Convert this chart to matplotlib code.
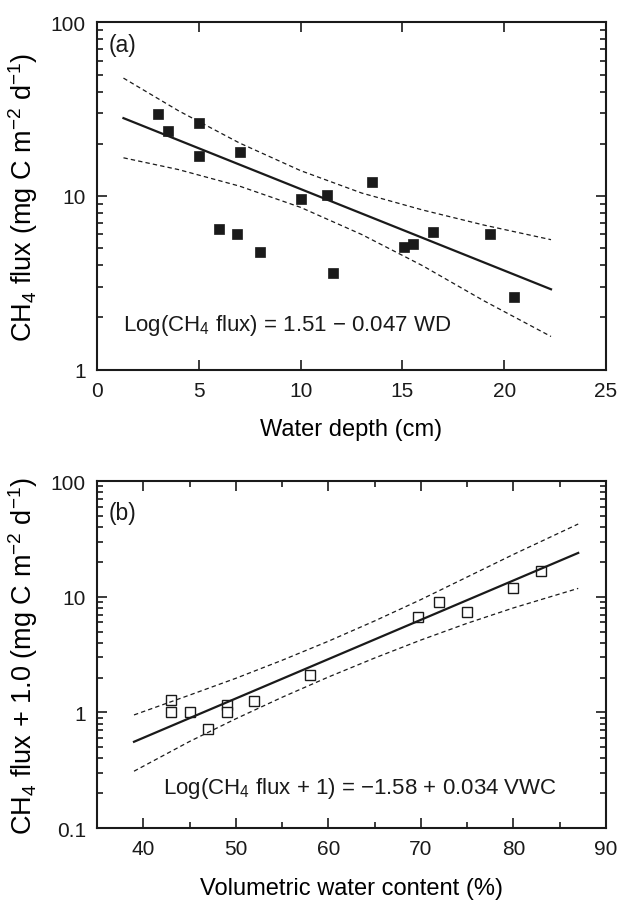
import numpy as np
import matplotlib
matplotlib.use('Agg')
import matplotlib.pyplot as plt
from matplotlib.ticker import FixedLocator, NullFormatter, LogLocator

plt.rcParams['font.family'] = ['Liberation Sans', 'DejaVu Sans']
plt.rcParams['mathtext.fontset'] = 'custom'
plt.rcParams['mathtext.rm'] = 'Liberation Sans'
plt.rcParams['mathtext.it'] = 'Liberation Sans:italic'
plt.rcParams['mathtext.default'] = 'regular'

# Panel (a): water depth vs CH4 flux
depth = [3.0, 3.5, 5.0, 5.0, 7.0, 6.0, 6.9, 8.0, 10.0, 11.3, 11.6, 13.5, 15.1, 15.5, 16.5, 19.3, 20.5]
flux = [29.8, 23.6, 26.4, 17.1, 18.0, 6.45, 6.0, 4.77, 9.6, 10.1, 3.6, 12.0, 5.05, 5.3, 6.2, 6.0, 2.63]

fit_a_x = [1.3, 22.3]
fit_a_y = [28.1, 2.90]
band_a_x = [1.3, 4, 7, 10, 13, 16, 19, 22.3]
band_a_hi = [47.8, 31.0, 20.2, 14.0, 10.4, 8.3, 6.8, 5.6]
band_a_lo = [16.6, 14.2, 11.4, 8.6, 6.0, 3.96, 2.49, 1.55]

# Panel (b): volumetric water content vs CH4 flux + 1
vwc = [43, 43, 45, 47, 49, 49, 52, 58, 69.7, 72, 75, 80, 83]
flux1 = [1.27, 1.01, 1.0, 0.72, 1.15, 1.0, 1.25, 2.12, 6.7, 9.0, 7.4, 11.8, 16.6]

fit_b_x = [39, 87]
fit_b_y = [0.557, 23.9]
band_b_x = [39, 45, 50, 55, 60, 65, 70, 75, 80, 87]
band_b_hi = [0.95, 1.41, 1.97, 2.82, 4.12, 6.17, 9.44, 14.8, 23.2, 42.5]
band_b_lo = [0.31, 0.56, 0.88, 1.35, 2.02, 2.95, 4.22, 5.89, 8.0, 11.8]

ink = '#1a1a1a'
fig = plt.figure(figsize=(6.21, 9.03), dpi=100)
ax1 = fig.add_axes([0.1562, 0.5897, 0.8196, 0.3843])
ax2 = fig.add_axes([0.1562, 0.0819, 0.8196, 0.3843])

dash = (0, (3.5, 2.5))

ax1.plot(depth, flux, 's', ms=7.7, color=ink, mec=ink, mew=0.5)
ax1.plot(fit_a_x, fit_a_y, '-', color=ink, lw=1.6)
ax1.plot(band_a_x, band_a_hi, color=ink, lw=0.9, ls=dash)
ax1.plot(band_a_x, band_a_lo, color=ink, lw=0.9, ls=dash)

ax2.plot(vwc, flux1, 's', ms=7.7, mfc='white', mec=ink, mew=1.0)
ax2.plot(fit_b_x, fit_b_y, '-', color=ink, lw=1.6)
ax2.plot(band_b_x, band_b_hi, color=ink, lw=0.9, ls=dash)
ax2.plot(band_b_x, band_b_lo, color=ink, lw=0.9, ls=dash)

for ax in (ax1, ax2):
    ax.set_yscale('log')
    for s in ax.spines.values():
        s.set_linewidth(1.5)
        s.set_color(ink)
    ax.tick_params(which='both', direction='in', top=True, right=True,
                   colors=ink, labelsize=15, pad=8)
    ax.tick_params(which='major', length=7, width=1.2)
    ax.tick_params(which='minor', length=4, width=1.2)
    ax.yaxis.set_minor_locator(LogLocator(base=10, subs=np.arange(2, 10)))
    ax.yaxis.set_minor_formatter(NullFormatter())

ax1.set_xlim(0, 25)
ax1.set_ylim(1, 100)
ax1.set_xticks([0, 5, 10, 15, 20, 25])
ax1.set_yticks([1, 10, 100], ['1', '10', '100'])
ax1.set_xlabel('Water depth (cm)', fontsize=17)
ax1.set_ylabel('CH$_4$ flux (mg C m$^{-2}$ d$^{-1}$)', fontsize=19.5)
ax1.xaxis.set_label_coords(0.5, -0.14)
ax1.yaxis.set_label_coords(-0.112, 0.5)
ax1.text(0.022, 0.936, '(a)', transform=ax1.transAxes, fontsize=16.5,
         ha='left', va='center', color=ink)
ax1.text(1.3, 1.82, 'Log(CH$_4$ flux) = 1.51 \u2212 0.047 WD', fontsize=16,
         ha='left', va='center', color=ink)

ax2.set_xlim(35, 90)
ax2.set_ylim(0.1, 100)
ax2.set_xticks([40, 50, 60, 70, 80, 90])
ax2.xaxis.set_minor_locator(FixedLocator([45, 55, 65, 75, 85]))
ax2.set_yticks([0.1, 1, 10, 100], ['0.1', '1', '10', '100'])
ax2.set_xlabel('Volumetric water content (%)', fontsize=17)
ax2.set_ylabel('CH$_4$ flux + 1.0 (mg C m$^{-2}$ d$^{-1}$)', fontsize=19.5)
ax2.xaxis.set_label_coords(0.5, -0.14)
ax2.yaxis.set_label_coords(-0.112, 0.5)
ax2.text(0.022, 0.91, '(b)', transform=ax2.transAxes, fontsize=16.5,
         ha='left', va='center', color=ink)
ax2.text(42.1, 0.226, 'Log(CH$_4$ flux + 1) = \u22121.58 + 0.034 VWC', fontsize=16,
         ha='left', va='center', color=ink)

fig.savefig('out.png', dpi=100)
